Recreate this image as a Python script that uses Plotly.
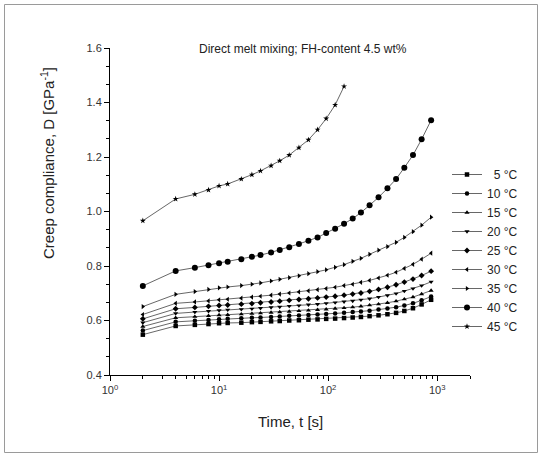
import plotly.graph_objects as go

# Time points [s]
time_s = [2, 4, 6, 8, 10, 12, 16, 20, 24, 30, 36, 44, 54, 66, 80, 96, 116, 140,
          168, 200, 240, 290, 350, 420, 500, 600, 720, 880]

d_5C = [0.548, 0.580, 0.584, 0.587, 0.590, 0.591, 0.592, 0.594, 0.595, 0.597, 0.598, 0.600, 0.601, 0.603,
        0.604, 0.606, 0.607, 0.609, 0.611, 0.613, 0.616, 0.619, 0.623, 0.628, 0.635, 0.645, 0.659, 0.676]
d_10C = [0.563, 0.595, 0.599, 0.602, 0.605, 0.606, 0.608, 0.610, 0.611, 0.613, 0.615, 0.617, 0.618, 0.620,
         0.622, 0.624, 0.626, 0.628, 0.631, 0.633, 0.636, 0.640, 0.644, 0.649, 0.655, 0.663, 0.674, 0.688]
d_15C = [0.578, 0.610, 0.614, 0.617, 0.620, 0.621, 0.623, 0.625, 0.627, 0.629, 0.631, 0.633, 0.635, 0.637,
         0.639, 0.641, 0.644, 0.646, 0.649, 0.652, 0.656, 0.660, 0.665, 0.671, 0.678, 0.686, 0.697, 0.710]
d_20C = [0.592, 0.626, 0.631, 0.634, 0.637, 0.639, 0.641, 0.643, 0.645, 0.648, 0.650, 0.653, 0.655, 0.658,
         0.660, 0.663, 0.666, 0.669, 0.672, 0.676, 0.680, 0.686, 0.692, 0.699, 0.708, 0.717, 0.728, 0.742]
d_25C = [0.606, 0.643, 0.648, 0.652, 0.655, 0.657, 0.660, 0.662, 0.665, 0.668, 0.671, 0.674, 0.677, 0.680,
         0.683, 0.686, 0.689, 0.693, 0.697, 0.701, 0.707, 0.714, 0.722, 0.731, 0.741, 0.752, 0.765, 0.781]
d_30C = [0.622, 0.663, 0.668, 0.672, 0.676, 0.678, 0.682, 0.686, 0.689, 0.693, 0.697, 0.701, 0.705, 0.709,
         0.713, 0.717, 0.722, 0.728, 0.733, 0.740, 0.747, 0.756, 0.766, 0.777, 0.791, 0.806, 0.825, 0.847]
d_35C = [0.651, 0.696, 0.706, 0.714, 0.720, 0.723, 0.728, 0.733, 0.738, 0.745, 0.751, 0.757, 0.764, 0.772,
         0.779, 0.786, 0.795, 0.805, 0.817, 0.828, 0.843, 0.858, 0.871, 0.887, 0.905, 0.926, 0.950, 0.979]
d_40C = [0.727, 0.782, 0.794, 0.803, 0.810, 0.816, 0.825, 0.834, 0.840, 0.850, 0.859, 0.869, 0.881, 0.893,
         0.905, 0.921, 0.937, 0.955, 0.974, 0.996, 1.023, 1.052, 1.085, 1.119, 1.161, 1.207, 1.265, 1.335]
d_45C = [0.966, 1.046, 1.063, 1.079, 1.094, 1.101, 1.119, 1.135, 1.149, 1.168, 1.186, 1.207, 1.234, 1.263,
         1.300, 1.341, 1.391, 1.459]

series_names = ["\u20075 \u00b0C", "10 \u00b0C", "15 \u00b0C", "20 \u00b0C", "25 \u00b0C",
                "30 \u00b0C", "35 \u00b0C", "40 \u00b0C", "45 \u00b0C"]
series_values = [d_5C, d_10C, d_15C, d_20C, d_25C, d_30C, d_35C, d_40C, d_45C]
symbols = ["square", "circle", "triangle-up", "triangle-down", "diamond",
           "triangle-left", "triangle-right", "circle", "star"]
sizes = [4.5, 4.5, 4.5, 4.5, 4.5, 4.5, 4.5, 6, 4.5]

x_tickvals = [1, 10, 100, 1000]
x_ticktext = ["10<sup>0</sup>", "10<sup>1</sup>", "10<sup>2</sup>", "10<sup>3</sup>"]

fig = go.Figure()
for name, vals, sym, sz in zip(series_names, series_values, symbols, sizes):
    fig.add_trace(go.Scatter(
        x=time_s[:len(vals)], y=vals, name=name, mode="lines+markers",
        line=dict(color="#404040", width=0.8),
        marker=dict(symbol=sym, size=sz, color="black", line=dict(width=0)),
    ))

W, H = 542, 457
L, R, T, B = 110, 72, 48, 82
pw, ph = W - L - R, H - T - B

def px_x(p):
    return (p - L) / pw

def px_y(p):
    return (H - B - p) / ph

font = "Liberation Sans, Arial, sans-serif"

x_minor = [m * d for d in (1, 10, 100) for m in range(2, 10)] + [2000]
y_minor = [0.4 + i * 0.2 / 3 for i in range(19) if i % 3 != 0]

fig.update_layout(
    width=W, height=H,
    margin=dict(l=L, r=R, t=T, b=B),
    paper_bgcolor="white", plot_bgcolor="white",
    showlegend=True,
    legend=dict(x=px_x(447), y=px_y(160), xanchor="left", yanchor="top",
                bgcolor="rgba(0,0,0,0)", borderwidth=0,
                font=dict(family=font, size=12, color="#222"),
                itemwidth=30, tracegroupgap=0),
    font=dict(family=font, color="#333"),
)
fig.update_xaxes(
    type="log", range=[0, 3.30103],
    tickvals=x_tickvals, ticktext=x_ticktext,
    ticks="outside", ticklen=5, tickwidth=1, tickcolor="black",
    showline=True, linecolor="black", linewidth=1,
    showgrid=False, zeroline=False,
    tickfont=dict(family=font, size=11, color="#333"),
    minor=dict(tickvals=x_minor, ticks="outside", ticklen=3, tickcolor="black", showgrid=False),
)
fig.update_yaxes(
    range=[0.4, 1.6], tickvals=[0.4, 0.6, 0.8, 1.0, 1.2, 1.4, 1.6], tickformat=".1f",
    ticks="outside", ticklen=5, tickwidth=1, tickcolor="black",
    showline=True, linecolor="black", linewidth=1,
    showgrid=False, zeroline=False,
    tickfont=dict(family=font, size=11, color="#333"),
    minor=dict(tickvals=y_minor, ticks="outside", ticklen=3, tickcolor="black", showgrid=False),
)

fig.add_annotation(text="Direct melt mixing; FH-content 4.5 wt%", xref="paper", yref="paper",
                   x=px_x(303), y=px_y(49), xanchor="center", yanchor="middle", showarrow=False,
                   font=dict(family=font, size=12, color="#222"))
fig.add_annotation(text="Time, t [s]", xref="paper", yref="paper",
                   x=px_x(290), y=px_y(421), xanchor="center", yanchor="middle", showarrow=False,
                   font=dict(family=font, size=15, color="#222"))
fig.add_annotation(text="Creep compliance, D [GPa<sup>-1</sup>]", xref="paper", yref="paper",
                   x=px_x(47), y=px_y(163), xanchor="center", yanchor="middle", showarrow=False,
                   textangle=-90, font=dict(family=font, size=15, color="#222"))

fig.add_shape(type="rect", xref="paper", yref="paper",
              x0=px_x(4.5), x1=px_x(537.5), y0=px_y(452.5), y1=px_y(4.5),
              line=dict(color="#9a9a9a", width=1), fillcolor="rgba(0,0,0,0)", layer="below")

fig.write_html("out.html", config={"displayModeBar": False},
               post_script="document.body.style.margin='0px';document.body.style.overflow='hidden';")
